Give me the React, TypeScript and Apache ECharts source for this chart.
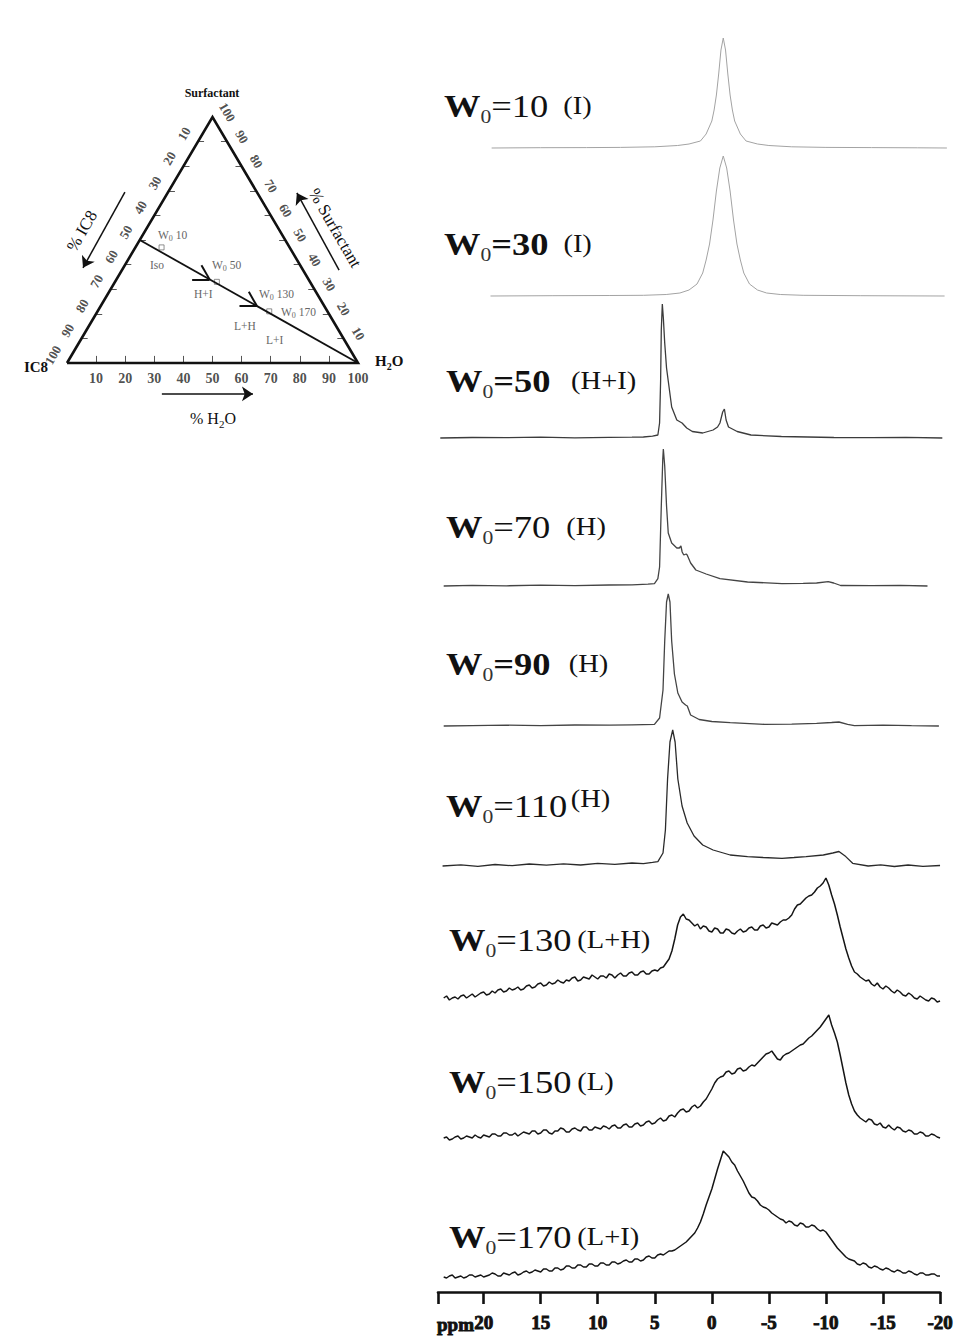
import React, { useEffect, useRef } from "react";
import * as echarts from "echarts";

const SERIF = "'Liberation Serif', 'Times New Roman', serif";

// ---------------- NMR spectra data (ppm, intensity a.u.) ----------------
const sampleW0 = ["10", "30", "50", "70", "90", "110", "130", "150", "170"];
const phases = ["(I)", "(I)", "(H+I)", "(H)", "(H)", "(H)", "(L+H)", "(L)", "(L+I)"];
const ppmTickValues = [20, 15, 10, 5, 0, -5, -10, -15, -20];

const specW10 = [[19.3,0],[15,0.3],[11,0.4],[8,0.6],[5,1.2],[3,2.5],[2,4],[1,7],[0.5,14],[0,27],[-0.2,38],[-0.4,53],[-0.6,74],[-0.8,98],[-1.0,110],[-1.2,98],[-1.4,74],[-1.6,53],[-1.8,38],[-2.0,27],[-2.5,14],[-3.0,7],[-4.0,4],[-5.0,2.5],[-7,1.2],[-10,0.6],[-14,0.4],[-18,0.2],[-20.6,0]];

const specW30 = [[19.4,0],[14,0.3],[9,0.5],[6,0.7],[4,1.5],[2.8,3],[2,6],[1.3,12],[0.8,23],[0.5,36],[0.2,52],[-0.1,76],[-0.4,105],[-0.7,128],[-1.0,140],[-1.3,128],[-1.6,105],[-1.9,76],[-2.2,52],[-2.5,36],[-2.8,23],[-3.3,12],[-4,6],[-4.8,3],[-6,1.5],[-8,0.7],[-13,0.3],[-20.4,0]];

const specW50 = [[23.8,0],[21,0.5],[18,0.3],[15,0.8],[12,0.2],[9,0.6],[7,0.8],[6,1],[5.2,1.8],[4.73,3],[4.58,15],[4.49,57],[4.43,108],[4.34,134],[4.25,120],[4.13,95],[3.97,70],[3.82,57],[3.52,31],[3.07,18],[2.61,15],[2.2,10],[1.71,6.5],[0.8,5],[-0.11,8],[-0.5,11],[-0.71,15],[-0.95,26],[-1.1,29],[-1.25,18],[-1.46,11],[-2.22,6.5],[-3.43,3],[-6.1,1.5],[-10.7,0.5],[-14,0.3],[-17,0.6],[-20.2,0]];

const specW70 = [[23.5,0],[21,0.6],[18,0.2],[15,0.8],[12,0.4],[9,1],[7,1.2],[5.6,1.8],[5.03,2.4],[4.73,7.4],[4.58,19],[4.43,80],[4.30,127],[4.25,137],[4.13,120],[3.97,80],[3.82,53],[3.52,43],[3.07,38],[2.85,38],[2.71,40],[2.6,34],[2.46,31],[2.25,32],[2.16,31],[1.86,23],[1.4,16],[0.5,12],[-0.71,7.4],[-3.13,4],[-6.15,2.4],[-8,2.6],[-9.18,3],[-10.2,4.4],[-10.68,3],[-11.29,0.5],[-14,0.3],[-16.5,0.6],[-18.9,0]];

const specW90 = [[23.5,0],[21,0.4],[18,0.8],[15,0.3],[12,1],[9,0.8],[7,1.2],[5.03,1.6],[4.58,8],[4.28,36],[4.13,85],[3.97,124],[3.82,132],[3.67,124],[3.52,85],[3.28,52],[2.98,33],[2.61,24],[2.3,21],[2.15,20],[1.86,11],[1.11,6.5],[0,4.5],[-1.61,3.3],[-4.63,1.6],[-7,1.8],[-9.18,2.6],[-10.5,3.5],[-11.14,4],[-11.9,1.6],[-12.5,0.3],[-15,0.8],[-17.5,0.3],[-19.9,0]];

const specW110 = [[23.6,0],[22,1.2],[20.5,-0.4],[19,1.5],[17.5,0.3],[16,2],[14.5,0.8],[13,2.2],[11.5,1],[10,2.6],[8.5,1.6],[7,3],[6,2.4],[5.2,3.6],[4.73,4.4],[4.28,13],[4.07,36],[3.88,87],[3.67,124],[3.43,136],[3.22,124],[2.98,87],[2.61,60],[2.16,43],[1.56,30],[0.8,21],[-0.11,16],[-1.61,11],[-3.13,9.4],[-4.5,8.5],[-6.15,7.7],[-7.2,8.5],[-8.26,9.4],[-9.77,11],[-10.6,13],[-11.14,14.5],[-11.74,9.4],[-12.34,2.7],[-13.7,0],[-14.8,1.2],[-16,-0.5],[-17.2,1],[-18.5,-0.3],[-20,0.5]];

const specW130 = [[23.5,1],[23.25,3],[23,-1],[22.75,1],[22.5,2],[22.25,0],[22,3],[21.75,4],[21.5,1],[21.25,3],[21,5],[20.75,2],[20.5,4],[20.25,6],[20,7],[19.75,4],[19.5,5],[19.25,8],[19,6],[18.75,9],[18.5,10],[18.25,7],[18,8],[17.75,11],[17.5,9],[17.25,10],[17,12],[16.75,9],[16.5,10],[16.25,13],[16,14],[15.75,11],[15.5,12],[15.25,15],[15,16],[14.75,13],[14.5,14],[14.25,17],[14,15],[13.75,16],[13.5,19],[13.25,17],[13,16],[12.75,19],[12.5,18],[12.25,21],[12,22],[11.75,18],[11.5,19],[11.25,22],[11,21],[10.75,20],[10.5,24],[10.25,22],[10,20],[9.75,23],[9.5,23],[9.25,21],[9,25],[8.75,24],[8.5,21],[8.25,24],[8,26],[7.75,23],[7.5,23],[7.25,26],[7,27],[6.75,24],[6.5,24],[6.25,27],[6,28],[5.75,25],[5.5,25],[5.25,28],[5,29],[4.75,28],[4.5,31],[4.25,32],[4,36],[3.75,40],[3.5,48],[3.25,60],[3,74],[2.75,82],[2.5,85],[2.25,80],[2,79],[1.75,76],[1.5,73],[1.25,75],[1,70],[0.75,73],[0.5,72],[0.25,68],[0,67],[-0.25,71],[-0.5,70],[-0.75,66],[-1,66],[-1.25,70],[-1.5,69],[-1.75,66],[-2,65],[-2.25,68],[-2.5,70],[-2.75,67],[-3,68],[-3.25,71],[-3.5,72],[-3.75,69],[-4,69],[-4.25,73],[-4.5,74],[-4.75,71],[-5,72],[-5.25,76],[-5.5,75],[-5.75,74],[-6,77],[-6.25,79],[-6.5,79],[-6.75,81],[-7,84],[-7.25,90],[-7.5,94],[-7.75,95],[-8,98],[-8.25,101],[-8.5,103],[-8.75,104],[-9,107],[-9.25,111],[-9.5,113],[-9.75,116],[-10,121],[-10.25,114],[-10.5,104],[-10.75,95],[-11,84],[-11.25,72],[-11.5,61],[-11.75,50],[-12,41],[-12.25,33],[-12.5,27],[-12.75,25],[-13,22],[-13.25,20],[-13.5,18],[-13.75,19],[-14,15],[-14.25,13],[-14.5,16],[-14.75,12],[-15,10],[-15.25,13],[-15.5,11],[-15.75,8],[-16,6],[-16.25,9],[-16.5,7],[-16.75,4],[-17,3],[-17.25,6],[-17.5,4],[-17.75,1],[-18,0],[-18.25,3],[-18.5,1],[-18.75,-1],[-19,-2],[-19.25,1],[-19.5,0],[-19.75,-3],[-20,-2]];

const specW150 = [[23.5,1],[23.25,2],[23,-1],[22.75,0],[22.5,2],[22.25,3],[22,0],[21.75,1],[21.5,3],[21.25,2],[21,1],[20.75,4],[20.5,2],[20.25,1],[20,4],[19.75,3],[19.5,2],[19.25,5],[19,5],[18.75,3],[18.5,3],[18.25,6],[18,6],[17.75,4],[17.5,4],[17.25,6],[17,3],[16.75,5],[16.5,7],[16.25,6],[16,5],[15.75,8],[15.5,8],[15.25,5],[15,6],[14.75,9],[14.5,9],[14.25,6],[14,5],[13.75,8],[13.5,8],[13.25,11],[13,10],[12.75,7],[12.5,7],[12.25,10],[12,11],[11.75,9],[11.5,8],[11.25,12],[11,12],[10.75,9],[10.5,9],[10.25,12],[10,11],[9.75,10],[9.5,13],[9.25,12],[9,10],[8.75,13],[8.5,14],[8.25,11],[8,11],[7.75,14],[7.5,15],[7.25,12],[7,12],[6.75,15],[6.5,16],[6.25,13],[6,14],[5.75,17],[5.5,18],[5.25,15],[5,16],[4.75,19],[4.5,21],[4.25,18],[4,19],[3.75,23],[3.5,24],[3.25,22],[3,26],[2.75,29],[2.5,30],[2.25,27],[2,28],[1.75,32],[1.5,34],[1.25,31],[1,33],[0.75,37],[0.5,40],[0.25,45],[0,50],[-0.25,56],[-0.5,60],[-0.75,62],[-1,63],[-1.25,67],[-1.5,68],[-1.75,65],[-2,66],[-2.25,70],[-2.5,71],[-2.75,68],[-3,69],[-3.25,72],[-3.5,74],[-3.75,73],[-4,76],[-4.25,79],[-4.5,82],[-4.75,85],[-5,86],[-5.25,88],[-5.5,84],[-5.75,80],[-6,79],[-6.25,83],[-6.5,85],[-6.75,86],[-7,88],[-7.25,90],[-7.5,92],[-7.75,94],[-8,95],[-8.25,98],[-8.5,101],[-8.75,103],[-9,106],[-9.25,109],[-9.5,112],[-9.75,116],[-10,120],[-10.25,124],[-10.5,114],[-10.75,106],[-11,97],[-11.25,84],[-11.5,70],[-11.75,56],[-12,44],[-12.25,35],[-12.5,28],[-12.75,24],[-13,21],[-13.25,19],[-13.5,17],[-13.75,20],[-14,19],[-14.25,15],[-14.5,14],[-14.75,16],[-15,12],[-15.25,11],[-15.5,14],[-15.75,11],[-16,9],[-16.25,12],[-16.5,11],[-16.75,8],[-17,7],[-17.25,9],[-17.5,8],[-17.75,5],[-18,5],[-18.25,7],[-18.5,6],[-18.75,3],[-19,3],[-19.25,5],[-19.5,4],[-19.75,2],[-20,1]];

const specW170 = [[23.5,0],[23.25,-1],[23,1],[22.75,2],[22.5,-1],[22.25,0],[22,1],[21.75,-1],[21.5,0],[21.25,2],[21,2],[20.75,0],[20.5,1],[20.25,2],[20,0],[19.75,1],[19.5,2],[19.25,4],[19,3],[18.75,1],[18.5,1],[18.25,4],[18,3],[17.75,2],[17.5,4],[17.25,5],[17,2],[16.75,3],[16.5,5],[16.25,6],[16,4],[15.75,5],[15.5,7],[15.25,6],[15,5],[14.75,8],[14.5,8],[14.25,6],[14,6],[13.75,9],[13.5,9],[13.25,7],[13,8],[12.75,11],[12.5,11],[12.25,9],[12,9],[11.75,12],[11.5,12],[11.25,10],[11,10],[10.75,13],[10.5,13],[10.25,11],[10,11],[9.75,14],[9.5,14],[9.25,12],[9,12],[8.75,15],[8.5,15],[8.25,13],[8,14],[7.75,16],[7.5,17],[7.25,15],[7,15],[6.75,18],[6.5,18],[6.25,16],[6,17],[5.75,20],[5.5,21],[5.25,19],[5,19],[4.75,22],[4.5,23],[4.25,22],[4,24],[3.75,26],[3.5,26],[3.25,27],[3,29],[2.75,31],[2.5,33],[2.25,35],[2,38],[1.75,41],[1.5,44],[1.25,49],[1,55],[0.75,63],[0.5,72],[0.25,80],[0,88],[-0.25,98],[-0.5,108],[-0.75,117],[-1,126],[-1.25,123],[-1.5,120],[-1.75,115],[-2,112],[-2.25,106],[-2.5,101],[-2.75,96],[-3,90],[-3.25,84],[-3.5,80],[-3.75,79],[-4,76],[-4.25,72],[-4.5,70],[-4.75,69],[-5,67],[-5.25,64],[-5.5,62],[-5.75,60],[-6,58],[-6.25,57],[-6.5,54],[-6.75,56],[-7,55],[-7.25,52],[-7.5,51],[-7.75,54],[-8,53],[-8.25,50],[-8.5,50],[-8.75,52],[-9,51],[-9.25,48],[-9.5,46],[-9.75,47],[-10,45],[-10.25,41],[-10.5,37],[-10.75,33],[-11,29],[-11.25,26],[-11.5,23],[-11.75,20],[-12,18],[-12.25,17],[-12.5,16],[-12.75,13],[-13,12],[-13.25,14],[-13.5,13],[-13.75,10],[-14,9],[-14.25,11],[-14.5,10],[-14.75,8],[-15,7],[-15.25,9],[-15.5,8],[-15.75,6],[-16,5],[-16.25,7],[-16.5,6],[-16.75,4],[-17,4],[-17.25,6],[-17.5,5],[-17.75,3],[-18,2],[-18.25,4],[-18.5,4],[-18.75,2],[-19,2],[-19.25,3],[-19.5,3],[-19.75,1],[-20,1]];

const spectra = [specW10, specW30, specW50, specW70, specW90, specW110, specW130, specW150, specW170];

// ---------------- Ternary diagram data ([%H2O, %Surfactant, %IC8]) ----------------
const ternTickValues = [10, 20, 30, 40, 50, 60, 70, 80, 90, 100];
const dilutionPath = [[0, 50, 50], [100, 0, 0]];
const samplePoints = [[9, 47, 44], [35, 33, 32], [59, 21, 20]];
const arrowTipsWater = [32, 53.7];

// ---------------- layout ----------------
const SPEC_LEFT = 438;
const PX_PER_PPM = 11.41;
const SPEC_MIN = -21;
const SPEC_MAX = 24;
const baselines = [148, 296, 438, 586, 726, 866, 999, 1139, 1277];
const labelY = [106, 244, 381, 527, 664, 806, 940, 1082, 1237];
const labelX = [444, 444, 446, 446, 446, 446, 449, 449, 449];
const phaseGap = [13, 13, 18, 14, 16, 3, 5, 5, 5];
const numberBold = [false, true, true, false, true, false, false, false, false];
const lineColors = ["#a3a3a3", "#a3a3a3", "#3c3c3c", "#444", "#444", "#2a2a2a", "#151515", "#151515", "#151515"];
const lineWidths = [1, 1, 1.3, 1.3, 1.3, 1.3, 1.5, 1.5, 1.5];

const SQ3 = Math.sqrt(3) / 2;
const tern = (w: number, s: number) => [w + s / 2, s * SQ3];

function buildOption() {
  const grids: any[] = baselines.map((b) => ({
    left: SPEC_LEFT,
    top: b - 140,
    width: (SPEC_MAX - SPEC_MIN) * PX_PER_PPM,
    height: 150,
  }));
  grids.push({ left: SPEC_LEFT, top: 1262, width: (24 + 20) * PX_PER_PPM, height: 30 });
  grids.push({ left: 8.8, top: 79, width: 407.4, height: 340.8 });

  const xAxes: any[] = baselines.map((_, i) => ({
    type: "value", gridIndex: i, min: SPEC_MIN, max: SPEC_MAX, inverse: true, show: false,
    splitLine: { show: false },
  }));
  xAxes.push({
    type: "value", gridIndex: 9, min: -20, max: 24, inverse: true,
    axisLine: { show: true, onZero: false, lineStyle: { color: "#111", width: 2.6 } },
    axisTick: { show: true, length: 12, lineStyle: { color: "#111", width: 2.6 }, customValues: [24, ...ppmTickValues] },
    axisLabel: {
      show: true, customValues: ppmTickValues, fontFamily: SERIF, fontWeight: "bold",
      fontSize: 19, color: "#111", margin: 21, textBorderColor: "#111", textBorderWidth: 0.9,
    },
    splitLine: { show: false },
  });
  xAxes.push({ type: "value", gridIndex: 10, min: -20, max: 120, show: false, splitLine: { show: false } });

  const yAxes: any[] = baselines.map((_, i) => ({
    type: "value", gridIndex: i, min: -10, max: 140, show: false, splitLine: { show: false },
  }));
  yAxes.push({ type: "value", gridIndex: 9, min: 0, max: 1, show: false, splitLine: { show: false } });
  yAxes.push({ type: "value", gridIndex: 10, min: -20, max: 100, show: false, splitLine: { show: false } });

  const series: any[] = spectra.map((d, i) => ({
    type: "line", xAxisIndex: i, yAxisIndex: i, data: d, symbol: "none", silent: true,
    lineStyle: { color: lineColors[i], width: lineWidths[i] },
  }));

  const T = { xAxisIndex: 10, yAxisIndex: 10, silent: true };
  const L = { ...T, type: "lines", coordinateSystem: "cartesian2d" };

  // triangle edges
  series.push({
    ...T, type: "line", symbol: "none",
    data: [tern(0, 0), tern(100, 0), tern(0, 100), tern(0, 0)],
    lineStyle: { color: "#111", width: 2.6, join: "miter" },
  });

  // ticks
  const tickSegs: any[] = [];
  ternTickValues.filter((v) => v < 100).forEach((v) => {
    const b = tern(v, 0);
    tickSegs.push({ coords: [b, [b[0], b[1] + 2.5]] });
    const l = tern(0, 100 - v);
    tickSegs.push({ coords: [l, [l[0] + 2.1, l[1]]] });
    const r = tern(100 - v, v);
    tickSegs.push({ coords: [r, [r[0] - 2.1, r[1]]] });
  });
  series.push({ ...L, data: tickSegs, lineStyle: { color: "#555", width: 1, opacity: 1 } });

  // dilution line
  series.push({
    ...T, type: "line", symbol: "none",
    data: dilutionPath.map(([w, s]) => tern(w, s)),
    lineStyle: { color: "#111", width: 1.8 },
  });

  // arrow heads on the dilution line
  const headSegs: any[] = [];
  arrowTipsWater.forEach((w) => {
    const tip = tern(w, 50 - w / 2);
    headSegs.push({ coords: [tip, [tip[0] - 6, tip[1]]] });
    headSegs.push({ coords: [tip, [tip[0] - 2.8, tip[1] + 5]] });
  });
  series.push({ ...L, data: headSegs, lineStyle: { color: "#111", width: 2, opacity: 1 } });

  // sample markers
  series.push({
    ...T, type: "scatter", symbol: "rect", symbolSize: 5,
    data: samplePoints.map(([w, s]) => tern(w, s)),
    itemStyle: { color: "#fff", borderColor: "#666", borderWidth: 0.9 },
  });

  // axis arrows
  series.push({
    ...L, symbol: ["none", "arrow"], symbolSize: 11,
    data: [
      { coords: [[19.9, 60.2], [5.5, 33.5]] },
      { coords: [[93.5, 32.7], [79.0, 59.9]] },
      { coords: [[32.6, -10.9], [63.9, -10.9]] },
    ],
    lineStyle: { color: "#111", width: 1.5, opacity: 1 },
  });

  const edgeLabel = (rotate: number, size: number) => ({
    show: true, position: "inside", rotate,
    formatter: (p: any) => p.value[2],
    fontFamily: SERIF, fontWeight: "bold", fontSize: size, color: "#222",
  });
  series.push({
    ...T, type: "scatter", symbolSize: 1, itemStyle: { color: "transparent" },
    data: ternTickValues.map((v) => { const p = tern(v, 0); return [p[0], p[1] - 5.4, String(v)]; }),
    label: edgeLabel(0, 14),
  });
  series.push({
    ...T, type: "scatter", symbolSize: 1, itemStyle: { color: "transparent" },
    data: ternTickValues.map((v) => { const p = tern(0, 100 - v); return [p[0] - 4.8, p[1] + 2.8, String(v)]; }),
    label: edgeLabel(60, 13),
  });
  series.push({
    ...T, type: "scatter", symbolSize: 1, itemStyle: { color: "transparent" },
    data: ternTickValues.map((v) => { const p = tern(100 - v, v); return [p[0] + 5.1, p[1] + 1.7, String(v)]; }),
    label: edgeLabel(-60, 13),
  });

  // ---------------- graphic texts ----------------
  const graphic: any[] = [];
  sampleW0.forEach((w0, i) => {
    graphic.push({
      type: "text", x: labelX[i], y: labelY[i], scaleX: 1.14, silent: true,
      style: {
        text: `{w|W}{s|0}{n|=${w0}}{p|${phases[i]}}`,
        align: "left", verticalAlign: "middle", fill: "#111",
        rich: {
          w: { fontFamily: SERIF, fontSize: 32, fontWeight: "bold", lineHeight: 40, fill: "#111", verticalAlign: "middle" },
          s: { fontFamily: SERIF, fontSize: 19, lineHeight: 19, fill: "#333", verticalAlign: "bottom" },
          n: { fontFamily: SERIF, fontSize: 32, fontWeight: numberBold[i] ? "bold" : "normal", lineHeight: 40, fill: "#111", verticalAlign: "middle" },
          p: {
            fontFamily: SERIF, fontSize: 25, fill: "#111",
            lineHeight: i === 5 ? 30 : 40, verticalAlign: i === 5 ? "top" : "middle",
            padding: [0, 0, 0, phaseGap[i]],
          },
        },
      },
    });
  });
  graphic.push({
    type: "text", x: 437, y: 1324, silent: true,
    style: {
      text: "ppm", font: `bold 19px ${SERIF}`, fill: "#111", align: "left", verticalAlign: "middle",
      stroke: "#111", lineWidth: 0.9,
    },
  });

  // ternary titles
  const t = (x: number, y: number, text: string, size: number, opts: any = {}) => ({
    type: "text", x, y, rotation: opts.rotation || 0, silent: true,
    style: {
      text, fontFamily: SERIF, fontSize: size, fontWeight: opts.bold ? "bold" : "normal",
      fill: opts.fill || "#111", align: opts.align || "center", verticalAlign: "middle",
      rich: opts.rich,
    },
  });
  graphic.push(t(212, 93, "Surfactant", 12, { bold: true }));
  graphic.push(t(36, 367, "IC8", 15, { bold: true }));
  graphic.push(t(375, 361, "{a|H}{s|2}{a|O}", 15, {
    align: "left",
    rich: {
      a: { fontFamily: SERIF, fontSize: 15, fontWeight: "bold", fill: "#111", lineHeight: 20 },
      s: { fontFamily: SERIF, fontSize: 10, fontWeight: "bold", fill: "#111", lineHeight: 10, verticalAlign: "bottom" },
    },
  }));
  graphic.push(t(82, 231, "% IC8", 17, { rotation: Math.PI / 3 }));
  graphic.push(t(335, 228, "% Surfactant", 17, { rotation: -Math.PI / 3 }));
  graphic.push(t(213, 418, "{a|% H}{s|2}{a|O}", 16, {
    rich: {
      a: { fontFamily: SERIF, fontSize: 16, fill: "#111", lineHeight: 22 },
      s: { fontFamily: SERIF, fontSize: 11, fill: "#111", lineHeight: 11, verticalAlign: "bottom" },
    },
  }));

  const grayRich = {
    a: { fontFamily: SERIF, fontSize: 11.5, fill: "#666", lineHeight: 14 },
    s: { fontFamily: SERIF, fontSize: 8, fill: "#666", lineHeight: 8, verticalAlign: "bottom" },
  };
  const inner: [number, number, string][] = [
    [158, 235, "{a|W}{s|0}{a| 10}"],
    [150, 265, "{a|Iso}"],
    [212, 265, "{a|W}{s|0}{a| 50}"],
    [194, 294, "{a|H+I}"],
    [259, 294, "{a|W}{s|0}{a| 130}"],
    [281, 312, "{a|W}{s|0}{a| 170}"],
    [234, 326, "{a|L+H}"],
    [266, 340, "{a|L+I}"],
  ];
  inner.forEach(([x, y, txt]) => graphic.push(t(x, y, txt, 11, { align: "left", rich: grayRich, fill: "#666" })));

  return {
    animation: false,
    backgroundColor: "#fff",
    grid: grids,
    xAxis: xAxes,
    yAxis: yAxes,
    series,
    graphic,
  };
}

export default function App() {
  const ref = useRef<HTMLDivElement>(null);
  useEffect(() => {
    document.body.style.margin = "0";
    const chart = echarts.init(ref.current!, null, { renderer: "svg", width: 963, height: 1344 });
    chart.setOption(buildOption() as any);
    return () => chart.dispose();
  }, []);
  return <div ref={ref} style={{ width: 963, height: 1344, background: "#fff" }} />;
}
